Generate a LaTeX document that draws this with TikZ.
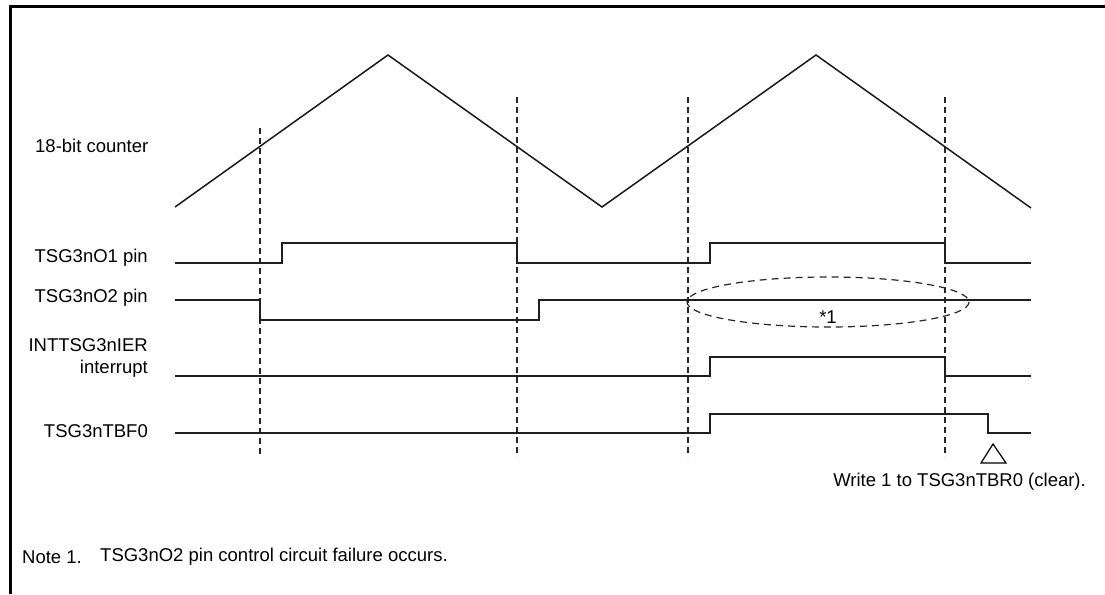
\documentclass[tikz,border=0pt]{standalone}
\usepackage{fontspec}
\setmainfont{Liberation Sans}
\begin{document}
\begin{tikzpicture}[x=1pt,y=-1pt,
  every node/.style={font=\fontsize{18.5}{22}\selectfont, inner sep=0pt},
  lbl/.style={anchor=east, align=right},
  sig/.style={line width=1.9pt, line join=miter, color=black!88},
  wave/.style={line width=1.5pt, line join=miter, color=black!90},
  guide/.style={line width=1.1pt, dash pattern=on 6pt off 4pt, color=black!85},
  oval/.style={line width=1.2pt, dash pattern=on 7pt off 5pt, color=black!85},
  frame/.style={line width=3pt}]
\useasboundingbox (0,0) rectangle (1105,594);
% frame
\draw[frame] (10,594) -- (10,7) -- (1105,7);
% labels
\node[anchor=west] (lcnt) at (35,146) {18-bit counter};
\node[lbl] (lo1) at (148,258) {TSG3nO1 pin};
\node[lbl] (lo2) at (148,298) {TSG3nO2 pin};
\node[lbl] (lint) at (148,358) {INTTSG3nIER\\interrupt};
\node[lbl] (ltbf) at (148,431) {TSG3nTBF0};
% guides
\draw[guide] (260,128) -- (260,457);
\draw[guide] (517,97) -- (517,457);
\draw[guide] (688,97) -- (688,457);
\draw[guide] (945,97) -- (945,457);
% counter
\draw[wave] (175,207) -- (388,55) -- (602,207) -- (816,55) -- (1031,208);
% TSG3nO1
\draw[sig] (175,263) -- (282,263) -- (282,243) -- (517,243) -- (517,263) -- (710,263) -- (710,243) -- (945,243) -- (945,263) -- (1031,263);
% TSG3nO2
\draw[sig] (175,300) -- (260,300) -- (260,320) -- (539,320) -- (539,300) -- (1031,300);
% INTTSG3nIER
\draw[sig] (175,376) -- (710,376) -- (710,357) -- (945,357) -- (945,376) -- (1031,376);
% TSG3nTBF0
\draw[sig] (175,433) -- (710,433) -- (710,414) -- (988,414) -- (988,433) -- (1031,433);
% ellipse note
\draw[oval] (828,302) ellipse [x radius=141, y radius=25];
\node (star) at (828,317) {*1};
% triangle marker
\draw[line width=1.2pt, line join=miter] (993,444) -- (1006,463) -- (981,463) -- cycle;
\node[anchor=east] (wr) at (1086,482) {Write 1 to TSG3nTBR0 (clear).};
% note
\node[anchor=west] (n1) at (22,557) {Note 1.};
\node[anchor=west] (n1t) at (100,557) {TSG3nO2 pin control circuit failure occurs.};
\end{tikzpicture}
\end{document}
